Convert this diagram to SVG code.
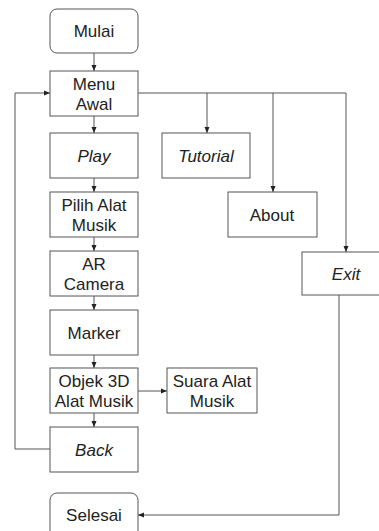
<svg xmlns="http://www.w3.org/2000/svg" width="379" height="531" viewBox="0 0 379 531">
<style>
.b{fill:#fff;stroke:#555;stroke-width:1}
.t{font-family:"Liberation Sans",Arial,sans-serif;font-size:17px;fill:#222;text-anchor:middle}
.i{font-style:italic}
.c{fill:none;stroke:#555;stroke-width:1}
</style>
<defs>
<marker id="a" viewBox="0 0 6 6" refX="6" refY="3" markerWidth="6" markerHeight="6" markerUnits="userSpaceOnUse" orient="auto">
<path d="M0,0.5 L6,3 L0,5.5 z" fill="#222"/>
</marker>
</defs>
<rect width="379" height="531" fill="#fff"/>
<g id="connectors">
<path class="c" d="M94,53 V71" marker-end="url(#a)"/>
<path class="c" d="M94,116 V133" marker-end="url(#a)"/>
<path class="c" d="M94,178 V192" marker-end="url(#a)"/>
<path class="c" d="M94,237 V251" marker-end="url(#a)"/>
<path class="c" d="M94,296 V310" marker-end="url(#a)"/>
<path class="c" d="M94,355 V368" marker-end="url(#a)"/>
<path class="c" d="M94,413 V427" marker-end="url(#a)"/>
<path class="c" d="M138,391 H167" marker-end="url(#a)"/>
<path class="c" d="M50,449 H15 V93 H50" marker-end="url(#a)"/>
<path class="c" d="M138,93 H207 V133" marker-end="url(#a)"/>
<path class="c" d="M207,93 H273 V192" marker-end="url(#a)"/>
<path class="c" d="M273,93 H346 V252" marker-end="url(#a)"/>
<path class="c" d="M339,295 V515 H138" marker-end="url(#a)"/>
</g>
<g id="mulai"><rect class="b" x="50" y="9" width="88" height="44" rx="7"/><text class="t" x="94" y="37">Mulai</text></g>
<g id="menu"><rect class="b" x="50" y="71" width="88" height="45"/><text class="t" x="94" y="90">Menu</text><text class="t" x="94" y="110">Awal</text></g>
<g id="play"><rect class="b" x="50" y="133" width="88" height="45"/><text class="t i" x="94" y="162">Play</text></g>
<g id="tutorial"><rect class="b" x="162" y="133" width="88" height="45"/><text class="t i" x="206" y="162">Tutorial</text></g>
<g id="about"><rect class="b" x="228" y="192" width="89" height="45"/><text class="t" x="272" y="221">About</text></g>
<g id="exit"><rect class="b" x="302" y="252" width="88" height="43"/><text class="t i" x="346" y="280">Exit</text></g>
<g id="pilih"><rect class="b" x="50" y="192" width="88" height="45"/><text class="t" x="94" y="211">Pilih Alat</text><text class="t" x="94" y="231">Musik</text></g>
<g id="ar"><rect class="b" x="50" y="251" width="88" height="45"/><text class="t" x="94" y="270">AR</text><text class="t" x="94" y="290">Camera</text></g>
<g id="marker"><rect class="b" x="50" y="310" width="88" height="45"/><text class="t" x="94" y="339">Marker</text></g>
<g id="objek"><rect class="b" x="50" y="368" width="88" height="45"/><text class="t" x="94" y="387">Objek 3D</text><text class="t" x="94" y="407">Alat Musik</text></g>
<g id="suara"><rect class="b" x="167" y="368" width="90" height="45"/><text class="t" x="212" y="387">Suara Alat</text><text class="t" x="212" y="407">Musik</text></g>
<g id="back"><rect class="b" x="50" y="427" width="88" height="45"/><text class="t i" x="94" y="456">Back</text></g>
<g id="selesai"><rect class="b" x="50" y="493" width="88" height="45" rx="7"/><text class="t" x="94" y="521">Selesai</text></g>
</svg>
